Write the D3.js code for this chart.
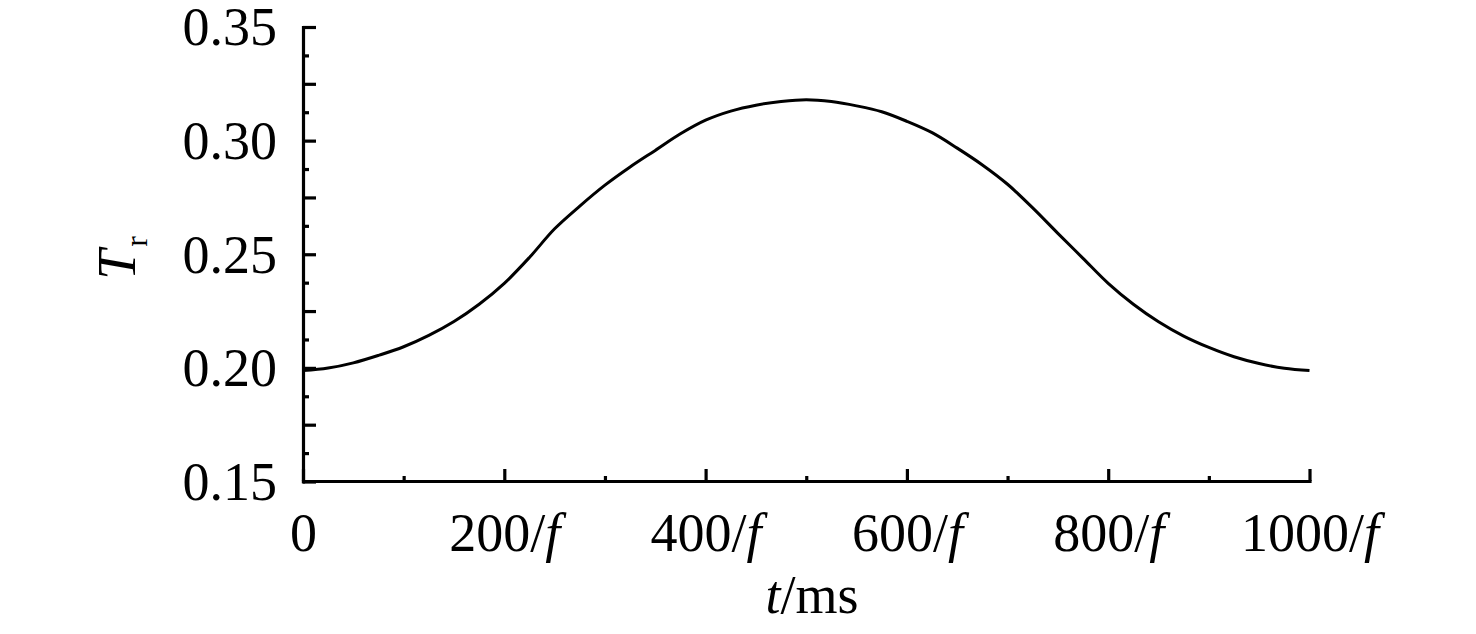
<!DOCTYPE html>
<html>
<head>
<meta charset="utf-8">
<script src="https://cdn.jsdelivr.net/npm/d3@7"></script>
<style>
  html, body { margin: 0; padding: 0; background: #fff; }
  svg { display: block; }
</style>
</head>
<body>
<svg id="chart" width="1476" height="634"></svg>
<script>
// ---- data ----
const tValues = [0, 25, 50, 75, 100, 125, 150, 175, 200, 225, 250, 275, 300, 325, 350, 375, 400, 425, 450, 475, 500,
                 525, 550, 575, 600, 625, 650, 675, 700, 725, 750, 775, 800, 825, 850, 875, 900, 925, 950, 975, 1000];
const trValues = [0.1988, 0.1999, 0.2022, 0.2055, 0.2093, 0.2143, 0.2204, 0.2280, 0.2372, 0.2486, 0.2612, 0.2712, 0.2804, 0.2884, 0.2957, 0.3030, 0.3090, 0.3130, 0.3156, 0.3172, 0.3180,
                  0.3172, 0.3153, 0.3127, 0.3085, 0.3035, 0.2967, 0.2893, 0.2808, 0.2704, 0.2592, 0.2482, 0.2372, 0.2280, 0.2203, 0.2140, 0.2090, 0.2049, 0.2019, 0.1998, 0.1988];
const xMajorTicks = [0, 200, 400, 600, 800, 1000];
const xMinorTicks = [100, 300, 500, 700, 900];
const yLabelTicks = [0.15, 0.20, 0.25, 0.30, 0.35];
const yMajorTicks = [0.15, 0.175, 0.20, 0.225, 0.25, 0.275, 0.30, 0.325, 0.35];
const yMinorTicks = [0.1625, 0.1875, 0.2125, 0.2375, 0.2625, 0.2875, 0.3125, 0.3375];
const xTitle = ["t", "/ms"];
const yTitle = ["T", "r"];

const font = "'Liberation Serif', 'Times New Roman', Times, serif";
const svg = d3.select("#chart");
svg.append("rect").attr("width", 1476).attr("height", 634).attr("fill", "#fff");

const x = d3.scaleLinear().domain([0, 1000]).range([303, 1309.5]);
const y = d3.scaleLinear().domain([0.15, 0.35]).range([481.5, 27]);

// curve
const line = d3.line().x((d, i) => x(tValues[i])).y(d => y(d)).curve(d3.curveCatmullRom.alpha(0.5));
svg.append("path")
  .datum(trValues)
  .attr("d", line)
  .attr("fill", "none")
  .attr("stroke", "#000")
  .attr("stroke-width", 3)
  .attr("stroke-linejoin", "round");

// y axis
const yMinor = svg.append("g").attr("transform", "translate(303,0)")
  .call(d3.axisLeft(y).tickValues(yMinorTicks).tickSize(-6).tickSizeOuter(0).tickFormat(""));
yMinor.select(".domain").remove();
const yMid = svg.append("g").attr("transform", "translate(303,0)")
  .call(d3.axisLeft(y).tickValues(yMajorTicks).tickSize(-13).tickSizeOuter(0).tickFormat(""));
yMid.select(".domain").remove();
const yAx = svg.append("g").attr("transform", "translate(303,0)")
  .call(d3.axisLeft(y).tickValues(yLabelTicks).tickSize(0).tickSizeOuter(0).tickPadding(26).tickFormat(d3.format(".2f")));

// x axis
const xMinor = svg.append("g").attr("transform", "translate(0,481)")
  .call(d3.axisBottom(x).tickValues(xMinorTicks).tickSize(-5).tickSizeOuter(0).tickFormat(""));
xMinor.select(".domain").remove();
const xAx = svg.append("g").attr("transform", "translate(0,481)")
  .call(d3.axisBottom(x).tickValues(xMajorTicks).tickSize(-12).tickSizeOuter(0).tickPadding(32));

xAx.selectAll(".tick text").each(function(d) {
  const t = d3.select(this);
  t.text(null);
  if (d === 0) {
    t.append("tspan").text("0");
  } else {
    t.append("tspan").text(d + "/");
    t.append("tspan").attr("font-style", "italic").text("f");
  }
});

svg.selectAll(".domain, .tick line").attr("stroke", "#000").attr("stroke-width", 3.2);
svg.selectAll(".domain").attr("stroke-linecap", "square");
svg.selectAll(".tick text").attr("font-family", font).attr("font-size", 54).attr("fill", "#000");
yAx.selectAll(".tick text").attr("dy", "0.33em");
xAx.selectAll(".tick text").attr("dy", "0.71em");

// axis titles
const xt = svg.append("text")
  .attr("x", 812).attr("y", 613)
  .attr("text-anchor", "middle")
  .attr("font-family", font).attr("font-size", 54).attr("fill", "#000");
xt.append("tspan").attr("font-style", "italic").text(xTitle[0]);
xt.append("tspan").text(xTitle[1]);

const yt = svg.append("text")
  .attr("transform", "translate(135,258) rotate(-90)")
  .attr("text-anchor", "middle")
  .attr("font-family", font).attr("font-size", 54).attr("fill", "#000");
yt.append("tspan").attr("font-style", "italic").text(yTitle[0]);
yt.append("tspan").attr("font-size", 32).attr("dy", 12).attr("dx", 3).text(yTitle[1]);
</script>
</body>
</html>
